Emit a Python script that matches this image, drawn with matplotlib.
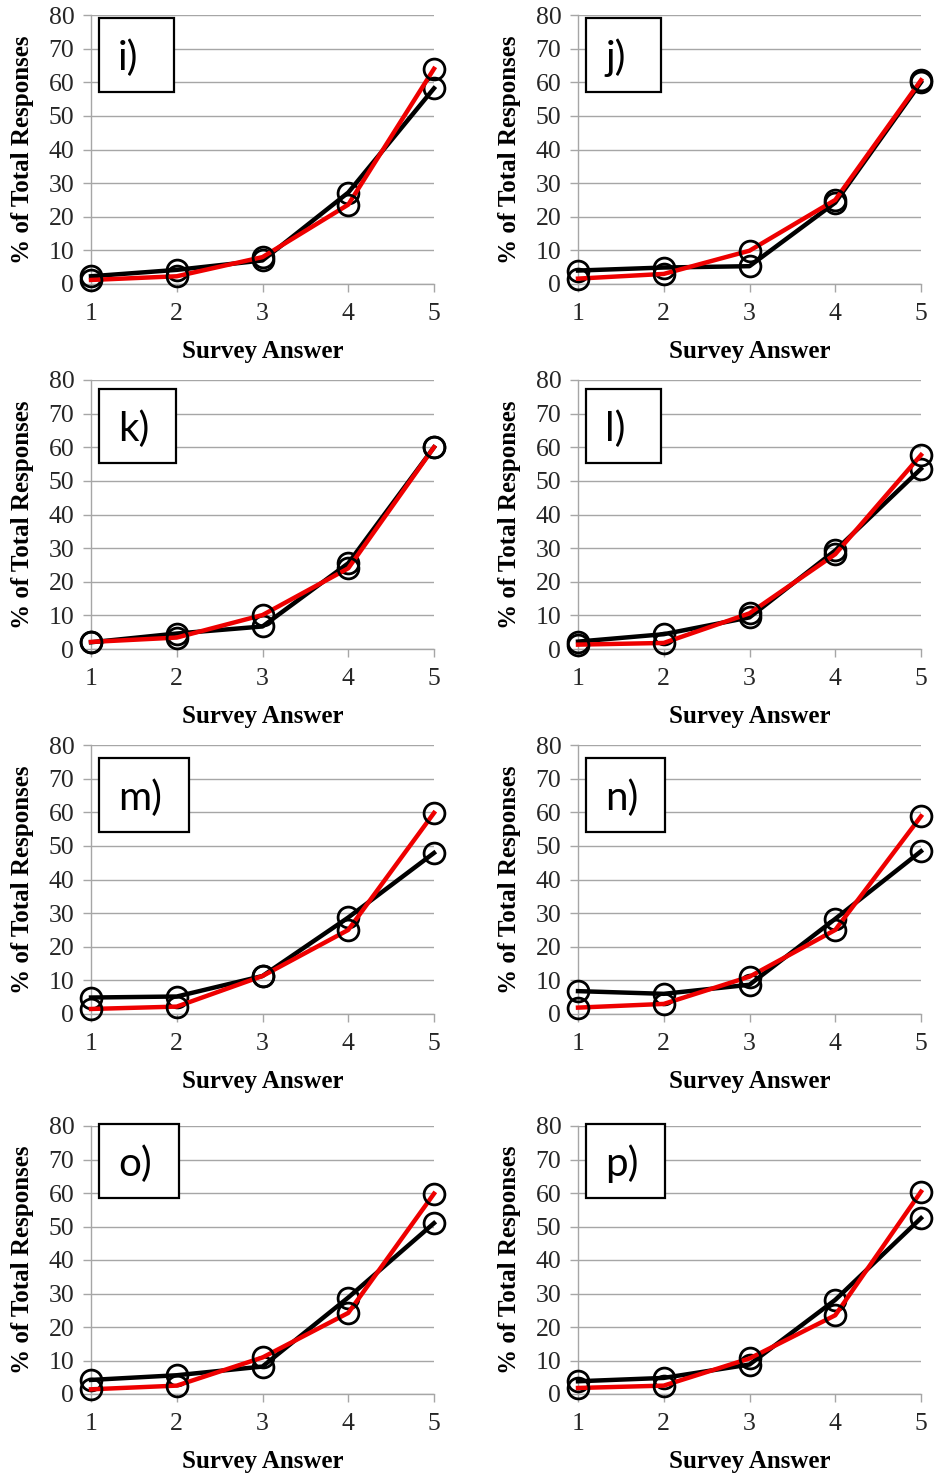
import matplotlib.pyplot as plt
from matplotlib.patches import Rectangle

answers = [1, 2, 3, 4, 5]
panel_labels = ['i)', 'j)', 'k)', 'l)', 'm)', 'n)', 'o)', 'p)']

# black series and red series per panel (% of total responses)
black_i = [2.3, 4.2, 7.0, 27.2, 58.2]
red_i = [1.2, 2.3, 8.0, 23.6, 64.0]
black_j = [4.0, 4.9, 5.3, 24.2, 60.0]
red_j = [1.6, 3.0, 9.9, 25.0, 60.6]
black_k = [2.0, 4.6, 6.7, 25.5, 60.0]
red_k = [2.1, 3.4, 10.1, 24.0, 60.0]
black_l = [2.2, 4.4, 9.4, 29.3, 53.6]
red_l = [1.3, 1.8, 10.6, 28.2, 57.7]
black_m = [4.9, 5.2, 11.3, 28.7, 47.9]
red_m = [1.5, 2.2, 11.3, 25.0, 59.8]
black_n = [6.8, 6.0, 8.7, 28.3, 48.4]
red_n = [1.9, 3.0, 11.1, 25.0, 58.8]
black_o = [4.2, 5.6, 8.2, 28.8, 51.0]
red_o = [1.4, 2.5, 10.9, 24.2, 59.8]
black_p = [3.8, 4.8, 8.8, 28.1, 52.5]
red_p = [1.8, 2.5, 10.6, 23.5, 60.4]

black_series = [black_i, black_j, black_k, black_l, black_m, black_n, black_o, black_p]
red_series = [red_i, red_j, red_k, red_l, red_m, red_n, red_o, red_p]

W, H = 934, 1478
col_left = [91, 578]
row_top = [15, 380, 745, 1126]
row_bottom = [284, 649, 1014, 1394]
box_top_off = [3, 9, 13, -2]
ax_w = 343

fig = plt.figure(figsize=(W / 100, H / 100), dpi=100)
renderer = fig.canvas.get_renderer()

grey = '#a6a6a6'
serif = 'Liberation Serif'

for k in range(8):
    r, c = divmod(k, 2)
    ax_h = row_bottom[r] - row_top[r]
    ax = fig.add_axes([col_left[c] / W, 1 - row_bottom[r] / H, ax_w / W, ax_h / H])

    ax.plot(answers, black_series[k], color='black', lw=3.2, marker='o', ms=15,
            mfc='none', mec='black', mew=2, clip_on=False, zorder=3)
    ax.plot(answers, red_series[k], color='#ee0000', lw=3.2, marker='o', ms=15,
            mfc='none', mec='black', mew=2, clip_on=False, zorder=4)

    ax.set_xlim(1, 5)
    ax.set_ylim(0, 80)
    ax.set_xticks(answers)
    ax.set_yticks(range(0, 81, 10))
    ax.grid(axis='y', color=grey, lw=1)
    ax.set_axisbelow(True)
    for s in ['top', 'right']:
        ax.spines[s].set_visible(False)
    for s in ['left', 'bottom']:
        ax.spines[s].set_color(grey)
        ax.spines[s].set_linewidth(1)
    ax.tick_params(axis='both', direction='out', length=6, width=1, color=grey,
                   labelsize=18.5, labelcolor='#262626')
    ax.tick_params(axis='y', pad=6)
    ax.tick_params(axis='x', pad=8)
    for lab in ax.get_xticklabels() + ax.get_yticklabels():
        lab.set_family(serif)

    ax.set_xlabel('Survey Answer', family=serif, fontweight='bold', fontsize=18)
    ax.set_ylabel('% of Total Responses', family=serif, fontweight='bold', fontsize=18)
    ax.xaxis.set_label_coords(0.5, -56 / ax_h)
    ax.yaxis.set_label_coords(-57 / ax_w, 0.5)

    # panel label in a box
    box_top = 1 - box_top_off[r] / ax_h
    box_h = 74 / ax_h
    box_left = 8 / ax_w
    t = ax.text(box_left + 19 / ax_w, box_top - box_h / 2 - 3 / ax_h, panel_labels[k],
                transform=ax.transAxes, family='Lato', fontsize=29, ha='left',
                va='center', zorder=6)
    tw = t.get_window_extent(renderer).width
    box_w = max(75, tw + 46) / ax_w
    ax.add_patch(Rectangle((box_left, box_top - box_h), box_w, box_h,
                           transform=ax.transAxes, facecolor='white',
                           edgecolor='black', lw=1.6, zorder=5, clip_on=False))

fig.savefig('out.png', dpi=100)
